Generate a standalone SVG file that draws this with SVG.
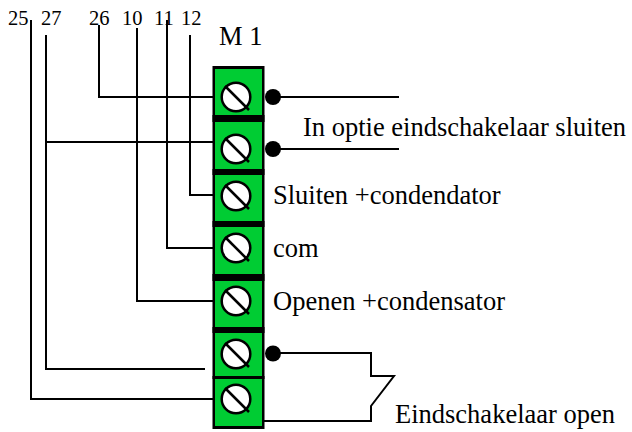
<svg xmlns="http://www.w3.org/2000/svg" width="632" height="432" viewBox="0 0 632 432">
<style>
text{font-family:"Liberation Serif","Times New Roman",serif;fill:#000;font-size:26.5px}
.n{font-size:20.500px}
.w{fill:none;stroke:#000;stroke-width:2}
.b{fill:#00cc33;stroke:none}
.f{fill:#000}
.s{fill:#fff;stroke:#000;stroke-width:2.5}
.l{stroke:#000;stroke-width:2.5;fill:none}
</style>
<defs>
<g id="screw"><circle class="s" r="14.300"/><path class="l" d="M-11-11L13 13"/></g>
</defs>
<rect width="632" height="432" fill="#fff"/>
<g id="connectors">
<path class="w" d="M99 25V97H213"/>
<path class="w" d="M46 35V369H205"/>
<path class="w" d="M46 142H213"/>
<path class="w" d="M31 20V399H213"/>
<path class="w" d="M137 28V301H213"/>
<path class="w" d="M167 20V248H213"/>
<path class="w" d="M190 35V195H213"/>
<path class="w" d="M273 97H399"/>
<path class="w" d="M273 149H399"/>
<path class="w" d="M273 353H371V376H394L371 406V421H264"/>
</g>
<g id="terminal-1"><rect class="f" x="212.500" y="66" width="52" height="56"/><rect class="b" x="215" y="69" width="47" height="46"/><use href="#screw" x="236" y="97"/></g>
<g id="terminal-2"><rect class="f" x="212.500" y="115" width="52" height="60"/><rect class="b" x="215" y="122" width="47" height="47"/><use href="#screw" x="236" y="149"/></g>
<g id="terminal-3"><rect class="f" x="212.500" y="169" width="52" height="58"/><rect class="b" x="215" y="175" width="47" height="46"/><use href="#screw" x="236" y="196"/></g>
<g id="terminal-4"><rect class="f" x="212.500" y="221" width="52" height="60"/><rect class="b" x="215" y="227" width="47" height="47"/><use href="#screw" x="236" y="248"/></g>
<g id="terminal-5"><rect class="f" x="212.500" y="274" width="52" height="59"/><rect class="b" x="215" y="281" width="47" height="46"/><use href="#screw" x="236" y="301"/></g>
<g id="terminal-6"><rect class="f" x="212.500" y="327" width="52" height="52"/><rect class="b" x="215" y="333" width="47" height="43"/><use href="#screw" x="236" y="354"/></g>
<g id="terminal-7"><rect class="f" x="212.500" y="376" width="52" height="53"/><rect class="b" x="215" y="379" width="47" height="47"/><use href="#screw" x="236" y="399"/></g>
<g id="dots">
<circle cx="273" cy="97" r="8"/>
<circle cx="273" cy="149" r="8"/>
<circle cx="273" cy="353.500" r="8"/>
</g>
<g id="labels">
<text class="n" x="8" y="25">25</text>
<text class="n" x="41" y="25">27</text>
<text class="n" x="89" y="25">26</text>
<text class="n" x="122" y="25">10</text>
<text class="n" x="154" y="25">11</text>
<text class="n" x="181" y="25">12</text>
<text x="219" y="45">M 1</text>
<text x="303" y="136">In optie eindschakelaar sluiten</text>
<text x="273" y="204">Sluiten +condendator</text>
<text x="273" y="257">com</text>
<text x="273" y="310">Openen +condensator</text>
<text x="395" y="423">Eindschakelaar open</text>
</g>
</svg>
